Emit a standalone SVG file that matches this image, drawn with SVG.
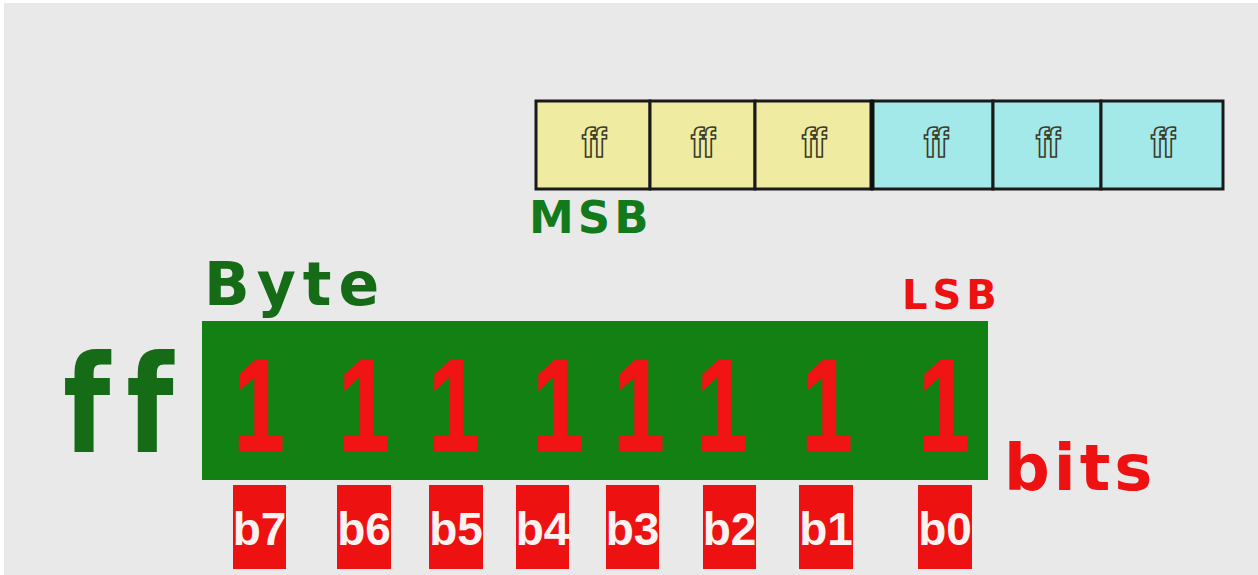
<svg xmlns="http://www.w3.org/2000/svg" width="1258" height="575" viewBox="0 0 1258 575">
<style>
text{font-variant-ligatures:none;font-feature-settings:"liga" 0,"clig" 0}
.cell{stroke:#1a1a1a;stroke-width:3}
.y{fill:#efeca2}
.c{fill:#a3e9e9}
.hx{font-family:"Liberation Sans",Arial,sans-serif;font-weight:bold;font-size:40px;letter-spacing:-2px;text-anchor:middle;stroke:#3a3a2a;stroke-width:1.6}
.lbl{font-family:"DejaVu Sans",sans-serif;font-weight:bold}
.one{font-family:"Liberation Sans",Arial,sans-serif;font-weight:bold;font-size:130px;fill:#f01414;stroke:#f01414;stroke-width:2;text-anchor:middle}
.bit{fill:#ee1111}
.bt{font-family:"Liberation Sans",Arial,sans-serif;font-weight:bold;font-size:46px;fill:#fbf2f2;text-anchor:middle}
</style>
<rect width="1258" height="575" fill="#ffffff"/>
<rect x="4" y="3" width="1254" height="572" fill="#e9e9e9"/>

<g id="word-row">
  <g id="cell-1"><rect class="cell y" x="536" y="101" width="114" height="88"/><text class="hx" x="593" y="157" fill="#efeca2">ff</text></g>
  <g id="cell-2"><rect class="cell y" x="650" y="101" width="105" height="88"/><text class="hx" x="702" y="157" fill="#efeca2">ff</text></g>
  <g id="cell-3"><rect class="cell y" x="755" y="101" width="117" height="88"/><text class="hx" x="813" y="157" fill="#efeca2">ff</text></g>
  <g id="cell-4"><rect class="cell c" x="872" y="101" width="121" height="88"/><text class="hx" x="935" y="157" fill="#a3e9e9">ff</text></g>
  <g id="cell-5"><rect class="cell c" x="993" y="101" width="108" height="88"/><text class="hx" x="1047" y="157" fill="#a3e9e9">ff</text></g>
  <g id="cell-6"><rect class="cell c" x="1101" y="101" width="122" height="88"/><text class="hx" x="1162" y="157" fill="#a3e9e9">ff</text></g>
  <line x1="872" y1="100" x2="872" y2="190" stroke="#111" stroke-width="5"/>
</g>

<g id="msb"><text class="lbl" x="529" y="233" font-size="45" letter-spacing="4" fill="#137a1c">MSB</text></g>
<g id="byte-label"><text class="lbl" x="204" y="305" font-size="60" letter-spacing="7" fill="#156b16">Byte</text></g>
<g id="lsb"><text class="lbl" x="902" y="309" font-size="40" letter-spacing="5" fill="#ee1111">LSB</text></g>
<g id="ff-big"><text class="lbl" transform="translate(63,452) scale(0.8,1)" x="0" y="0" font-size="136" letter-spacing="20" fill="#156b16">ff</text></g>

<g id="byte">
  <rect x="202" y="321" width="786" height="159" fill="#138013"/>
  <text class="one" transform="translate(259,450) scale(0.7,1)">1</text>
  <text class="one" transform="translate(364,450) scale(0.7,1)">1</text>
  <text class="one" transform="translate(454,450) scale(0.7,1)">1</text>
  <text class="one" transform="translate(558,450) scale(0.7,1)">1</text>
  <text class="one" transform="translate(639,450) scale(0.7,1)">1</text>
  <text class="one" transform="translate(722,450) scale(0.7,1)">1</text>
  <text class="one" transform="translate(827,450) scale(0.7,1)">1</text>
  <text class="one" transform="translate(944,450) scale(0.7,1)">1</text>
</g>

<g id="bits-label"><text class="lbl" x="1004" y="490" font-size="64" letter-spacing="4" fill="#ee1111">bits</text></g>

<g id="b7"><rect class="bit" x="233" y="485" width="53" height="84"/><text class="bt" x="259.5" y="545">b7</text></g>
<g id="b6"><rect class="bit" x="337" y="485" width="54" height="84"/><text class="bt" x="364" y="545">b6</text></g>
<g id="b5"><rect class="bit" x="429" y="485" width="54" height="84"/><text class="bt" x="456" y="545">b5</text></g>
<g id="b4"><rect class="bit" x="516" y="485" width="53" height="84"/><text class="bt" x="542.5" y="545">b4</text></g>
<g id="b3"><rect class="bit" x="606" y="485" width="53" height="84"/><text class="bt" x="632.5" y="545">b3</text></g>
<g id="b2"><rect class="bit" x="703" y="485" width="53" height="84"/><text class="bt" x="729.5" y="545">b2</text></g>
<g id="b1"><rect class="bit" x="799" y="485" width="54" height="84"/><text class="bt" x="826" y="545">b1</text></g>
<g id="b0"><rect class="bit" x="918" y="485" width="54" height="84"/><text class="bt" x="945" y="545">b0</text></g>
</svg>
